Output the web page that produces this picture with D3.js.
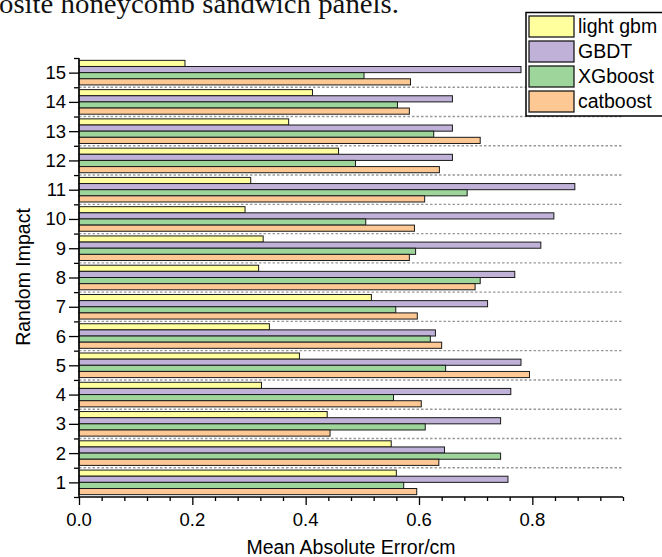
<!DOCTYPE html>
<html>
<head>
<meta charset="utf-8">
<script src="https://cdn.jsdelivr.net/npm/d3@7"></script>
<style>
  body { margin: 0; background: #fff; }
  svg { display: block; }
</style>
</head>
<body>
<div id="container"></div>
<script>
var width = 662,
    height = 557;

// data
var categories = [1, 2, 3, 4, 5, 6, 7, 8, 9, 10, 11, 12, 13, 14, 15];
var seriesNames = ["light gbm", "GBDT", "XGboost", "catboost"];
var lightgbm = [0.560, 0.551, 0.438, 0.322, 0.389, 0.336, 0.516, 0.317, 0.325, 0.293, 0.303, 0.458, 0.370, 0.412, 0.187];
var gbdt     = [0.757, 0.645, 0.744, 0.762, 0.780, 0.629, 0.721, 0.769, 0.815, 0.838, 0.875, 0.659, 0.659, 0.659, 0.780];
var xgboost  = [0.573, 0.744, 0.611, 0.555, 0.647, 0.620, 0.559, 0.708, 0.594, 0.506, 0.685, 0.488, 0.626, 0.562, 0.503];
var catboost = [0.596, 0.635, 0.443, 0.604, 0.795, 0.640, 0.597, 0.699, 0.583, 0.592, 0.610, 0.636, 0.708, 0.583, 0.585];
var xTickLabels = ["0.0", "0.2", "0.4", "0.6", "0.8"];
var colors = ["#ffff9e", "#bfb1d7", "#9dd59b", "#fdc894"];

var seriesValues = [lightgbm, gbdt, xgboost, catboost];

var svg = d3.select("div#container")
    .append("svg")
    .attr("width", width)
    .attr("height", height)

var x = d3.scaleLinear().domain([0, 0.96]).range([79, 623]);
var y = d3.scaleLinear().domain([0.5, 15.5]).range([497, 58]);

var barH = 0.21; // in category units

// caption text from the page above the figure (cut at the top, like the scan)
svg.append("text")
    .attr("x", -1)
    .attr("y", 13)
    .attr("font-family", "Liberation Serif, serif")
    .attr("font-size", 27)
    .attr("textLength", 400)
    .attr("lengthAdjust", "spacingAndGlyphs")
    .style("fill", "#111")
    .text("osite honeycomb sandwich panels.")

// dotted separators between groups
var halfs = categories.slice(0, -1).map(function (c) { return c + 0.5 });
svg.selectAll(".sep")
    .data(halfs)
    .enter().append("line")
    .attr("class", "sep")
    .attr("x1", x(0))
    .attr("x2", x(0.96))
    .attr("y1", function (d) { return y(d) })
    .attr("y2", function (d) { return y(d) })
    .style("stroke", "#999")
    .style("stroke-width", 1.4)
    .style("stroke-dasharray", "2.5,2")

// bars
seriesValues.forEach(function (vals, si) {
    svg.selectAll(".bar" + si)
        .data(vals)
        .enter().append("rect")
        .attr("class", "bar" + si)
        .attr("x", x(0))
        .attr("y", function (d, i) { return y(categories[i] + 0.42 - si * barH) })
        .attr("width", function (d) { return x(d) - x(0) })
        .attr("height", function (d, i) { return y(categories[i] - barH) - y(categories[i]) })
        .style("fill", colors[si])
        .style("stroke", "#1a1a1a")
        .style("stroke-width", 1)
})

// x axis
var xAxis = svg.append("g")
    .attr("transform", "translate(0," + y(0.5) + ")")
    .call(d3.axisBottom(x)
        .tickValues(d3.range(0, 0.961, 0.04))
        .tickSize(4)
        .tickFormat(""))
xAxis.select(".domain").remove()
xAxis.selectAll(".tick").filter(function (d, i) { return i % 5 === 0 })
    .select("line").attr("y2", 8)
xAxis.selectAll("line").style("stroke", "#000").style("stroke-width", 1.3)

svg.append("line")
    .attr("x1", x(0)).attr("x2", x(0.96))
    .attr("y1", y(0.5)).attr("y2", y(0.5))
    .style("stroke", "#000").style("stroke-width", 1.5)

svg.selectAll(".xlab")
    .data(xTickLabels)
    .enter().append("text")
    .attr("class", "xlab")
    .attr("x", function (d) { return x(+d) })
    .attr("y", y(0.5) + 29)
    .attr("text-anchor", "middle")
    .attr("font-family", "Liberation Sans, Arial, sans-serif")
    .attr("font-size", 18.5)
    .text(function (d) { return d })

// y axis
var yAxis = svg.append("g")
    .attr("transform", "translate(" + x(0) + ",0)")
    .call(d3.axisLeft(y)
        .tickValues(d3.range(0.5, 15.51, 0.5))
        .tickSize(5)
        .tickFormat(""))
yAxis.select(".domain").remove()
yAxis.selectAll(".tick").filter(function (d) { return d % 1 === 0 })
    .select("line").attr("x2", -10)
yAxis.selectAll("line").style("stroke", "#000").style("stroke-width", 1.3)

svg.append("line")
    .attr("x1", x(0)).attr("x2", x(0))
    .attr("y1", y(15.5)).attr("y2", y(0.5))
    .style("stroke", "#000").style("stroke-width", 1.5)

svg.selectAll(".ylab")
    .data(categories)
    .enter().append("text")
    .attr("class", "ylab")
    .attr("x", x(0) - 13)
    .attr("y", function (d) { return y(d) + 6.5 })
    .attr("text-anchor", "end")
    .attr("font-family", "Liberation Sans, Arial, sans-serif")
    .attr("font-size", 18.5)
    .text(function (d) { return d })

// axis titles
svg.append("text")
    .attr("x", 351)
    .attr("y", 554)
    .attr("text-anchor", "middle")
    .attr("font-family", "Liberation Sans, Arial, sans-serif")
    .attr("font-size", 19.5)
    .text("Mean Absolute Error/cm")

svg.append("text")
    .attr("transform", "translate(30,277) rotate(-90)")
    .attr("text-anchor", "middle")
    .attr("font-family", "Liberation Sans, Arial, sans-serif")
    .attr("font-size", 19.5)
    .text("Random Impact")

// legend
var legend = svg.append("g").attr("transform", "translate(526,12.5)")
legend.append("rect")
    .attr("width", 140)
    .attr("height", 103.5)
    .style("fill", "#fff")
    .style("stroke", "#000")
    .style("stroke-width", 1.5)

var items = legend.selectAll(".item")
    .data(seriesNames)
    .enter().append("g")
    .attr("class", "item")
    .attr("transform", function (d, i) { return "translate(3," + (3.5 + i * 25) + ")" })

items.append("rect")
    .attr("width", 45)
    .attr("height", 21)
    .style("fill", function (d, i) { return colors[i] })
    .style("stroke", "#1a1a1a")
    .style("stroke-width", 1.3)

items.append("text")
    .attr("x", 49)
    .attr("y", 17)
    .attr("font-family", "Liberation Sans, Arial, sans-serif")
    .attr("font-size", 19.5)
    .text(function (d) { return d })
</script>
</body>
</html>
